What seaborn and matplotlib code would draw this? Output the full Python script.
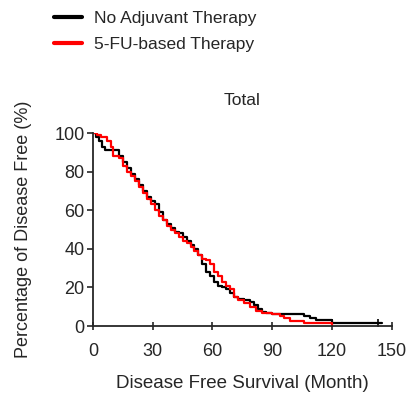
import numpy as np
import pandas as pd
import matplotlib
matplotlib.use("Agg")
import matplotlib.pyplot as plt
import seaborn as sns
from matplotlib.lines import Line2D

# ---- data ----
no_adj_time = [0, 1.5, 3, 4.5, 6, 13, 15, 17, 19, 21, 23, 25, 27, 29, 31, 33, 35, 37, 39, 41,
               43, 45, 47, 49, 51, 53, 55, 57, 59, 61, 63, 65, 67, 69, 71, 73, 76, 79, 81, 83,
               85, 87, 90, 106, 109, 112, 120, 145]
no_adj_surv = [100, 98, 96, 93, 91, 88, 85, 82, 79, 76, 73, 70, 67, 65, 63, 59, 55, 53, 51, 49,
               48, 46, 44, 42, 40, 37, 32, 28, 26, 23, 21, 20, 19, 17, 15, 14, 13.5, 12.5, 11, 9,
               7.5, 6.5, 6, 5, 4, 3, 1.5, 1.5]

fu_time = [0, 2, 4, 7, 9, 10, 13, 15, 17, 19, 21, 23, 25, 27, 29, 31, 33, 35, 37, 39, 41, 43,
           45, 47, 49, 51, 53, 55, 57, 59, 61, 63, 65, 67, 69, 71, 73, 76, 79, 82, 85, 90, 94,
           96, 99, 106, 120]
fu_surv = [100, 99, 98, 96, 93, 88, 87, 83, 80, 78, 75, 72, 69, 66, 63, 60, 57, 55, 52, 50, 48,
           46, 44, 43, 41, 39, 37, 35, 34, 32, 28, 26, 23, 21, 19, 15, 13.5, 12, 10, 8, 7, 6, 5,
           4, 2.5, 1.5, 0]

series_names = ["No Adjuvant Therapy", "5-FU-based Therapy"]
series_colors = ["#000000", "#ff0000"]
x_ticks = [0, 30, 60, 90, 120, 150]
y_ticks = [0, 20, 40, 60, 80, 100]

censor_time_no_adj = [120, 143]
censor_surv_no_adj = [1.5, 1.5]

# ---- build table ----
df = pd.concat([
    pd.DataFrame({"time": no_adj_time, "surv": no_adj_surv, "group": series_names[0]}),
    pd.DataFrame({"time": fu_time, "surv": fu_surv, "group": series_names[1]}),
], ignore_index=True)

sns.set_style("ticks")
plt.rcParams["font.family"] = ["Liberation Sans", "DejaVu Sans"]

fig = plt.figure(figsize=(4.09, 4.01), dpi=100)
ax = fig.add_axes([0.227, 0.187, 0.731, 0.481])

sns.lineplot(data=df, x="time", y="surv", hue="group", palette=dict(zip(series_names, series_colors)),
             estimator=None, sort=False, drawstyle="steps-post", linewidth=1.6, legend=False, ax=ax)
sns.scatterplot(x=censor_time_no_adj, y=censor_surv_no_adj, marker="|", color="black", s=30,
                linewidth=1.2, ax=ax, legend=False)

ax.set_xlim(0, 150)
ax.set_ylim(0, 100)
ax.set_xticks(x_ticks)
ax.set_yticks(y_ticks)
ax.tick_params(axis="x", direction="inout", length=6, width=1.2, labelsize=13, pad=9)
ax.tick_params(axis="y", direction="out", length=4, width=1.2, labelsize=13, pad=2)
for s in ["left", "bottom"]:
    ax.spines[s].set_linewidth(1.3)
sns.despine(ax=ax)

ax.set_xlabel("Disease Free Survival (Month)", fontsize=13.5, labelpad=11)
ax.set_ylabel("Percentage of Disease Free (%)", fontsize=13, labelpad=16)
ax.set_title("Total", fontsize=12.5, pad=20)

handles = [Line2D([0], [0], color=c, lw=3) for c in series_colors]
fig.legend(handles, series_names, loc="upper left", bbox_to_anchor=(0.095, 1.012),
           frameon=False, fontsize=12.5, handlelength=1.6, handletextpad=0.7, labelspacing=0.65)

fig.savefig("out.png", dpi=100)
